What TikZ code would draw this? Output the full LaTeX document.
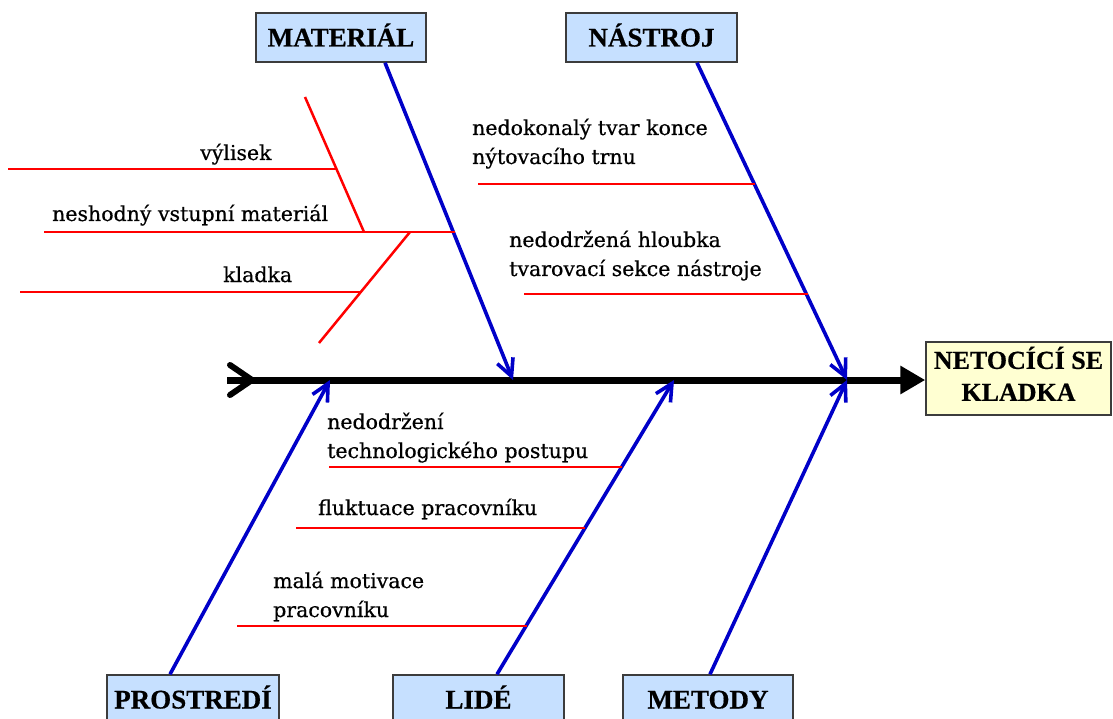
\documentclass[tikz,border=0pt]{standalone}
\usepackage{fontspec}
\setmainfont{Liberation Serif}
\newfontfamily\lblfont[FakeBold=0.6]{DejaVu Serif}
\newfontfamily\boxfont[FakeBold=0.5]{Liberation Serif Bold}
\usetikzlibrary{arrows.meta}

\definecolor{boxblue}{RGB}{198,224,255}
\definecolor{boxyellow}{RGB}{255,255,210}
\definecolor{boxline}{RGB}{60,60,60}
\definecolor{catblue}{RGB}{0,0,200}
\definecolor{causered}{RGB}{255,0,0}

\tikzset{
  catbox/.style={draw=boxline, line width=1.5pt, fill=boxblue, inner sep=0pt,
    minimum height=49pt, text height=18pt, text depth=0pt,
    font=\boxfont\fontsize{27}{32}\selectfont},
  effectbox/.style={draw=boxline, line width=1.5pt, fill=boxyellow, inner sep=0pt,
    minimum width=185pt, minimum height=73pt,
    font=\boxfont\fontsize{26}{32}\selectfont},
  bone/.style={catblue, line width=3.6pt, -{Straight Barb[length=17pt,width=17pt]}},
  cause/.style={causered, line width=2.5pt},
  spine/.style={black, line width=7pt},
  lbl/.style={inner sep=0pt, anchor=base west,
    font=\lblfont\fontsize{20.5}{29}\selectfont}
}

\newcommand{\twolines}[2]{\begin{tabular}[t]{@{}l@{}}#1\\#2\end{tabular}}

\begin{document}
\begin{tikzpicture}[x=1pt,y=-1pt]
  \useasboundingbox (0,0) rectangle (1113,719);

  % category boxes
  \node[catbox, minimum width=170pt] (mat) at (341,37.5) {MATERIÁL};
  \node[catbox, minimum width=171pt] (nas) at (651.5,37.5) {NÁSTROJ};
  \node[catbox, minimum width=172pt] (pro) at (193,699.5) {PROSTREDÍ};
  \node[catbox, minimum width=171pt] (lid) at (478.5,699.5) {LIDÉ};
  \node[catbox, minimum width=170pt] (met) at (708,699.5) {METODY};

  % effect box
  \node[effectbox] (eff) at (1018.5,378.5)
    {\raisebox{-4pt}{\begin{tabular}{@{}c@{}}NETOCÍCÍ SE\\KLADKA\end{tabular}}};

  % spine
  \coordinate (tail) at (227,380);
  \draw[spine, -{Triangle[length=25pt,width=27pt]}] (tail) -- (tail -| eff.west);
  \draw[spine, line width=6pt, line cap=round, line join=miter]
    (tail) ++(3,-15) -- ++(22,15) -- ++(-22,15);

  % points where the bones meet the spine
  \coordinate (jmat) at (513,380);
  \coordinate (jnas) at (847,380);
  \coordinate (jpro) at (330,380);
  \coordinate (jlid) at (674,380);
  \coordinate (jmet) at (847,380);

  % category bones
  \draw[bone] ([xshift=44pt]mat.south) -- (jmat);
  \draw[bone] ([xshift=45.5pt]nas.south) -- (jnas);
  \draw[bone] ([xshift=-23pt]pro.north) -- (jpro);
  \draw[bone] ([xshift=18.5pt]lid.north) -- (jlid);
  \draw[bone] ([xshift=2pt]met.north) -- (jmet);

  % MATERIAL causes
  \coordinate (m1a) at (44,232);   \coordinate (m1b) at (455,232);
  \coordinate (s1a) at (305,97);   \coordinate (s1b) at (364,232);
  \coordinate (s2a) at (410,232);  \coordinate (s2b) at (319,343);
  \coordinate (v1) at (8,169);     \coordinate (v2) at (337,169);
  \coordinate (k1) at (20,292);    \coordinate (k2) at (361,292);
  \draw[cause] (m1a) -- (m1b);
  \draw[cause] (s1a) -- (s1b);
  \draw[cause] (s2a) -- (s2b);
  \draw[cause] (v1) -- (v2);
  \draw[cause] (k1) -- (k2);
  \node[lbl] (tvyl) at (200,160) {výlisek};
  \node[lbl] (tnes) at (52,221) {neshodný vstupní materiál};
  \node[lbl] (tkla) at (223,282) {kladka};

  % NASTROJ causes
  \coordinate (n1a) at (478,184);  \coordinate (n1b) at (755,184);
  \coordinate (n2a) at (524,294);  \coordinate (n2b) at (808,294);
  \draw[cause] (n1a) -- (n1b);
  \draw[cause] (n2a) -- (n2b);
  \node[lbl] (tned) at (472,135) {\twolines{nedokonalý tvar konce}{nýtovacího trnu}};
  \node[lbl] (thlo) at (509,247) {\twolines{nedodržená hloubka}{tvarovací sekce nástroje}};

  % LIDE causes
  \coordinate (l1a) at (329,467);  \coordinate (l1b) at (622,467);
  \coordinate (l2a) at (296,528);  \coordinate (l2b) at (585,528);
  \coordinate (l3a) at (237,626);  \coordinate (l3b) at (527,626);
  \draw[cause] (l1a) -- (l1b);
  \draw[cause] (l2a) -- (l2b);
  \draw[cause] (l3a) -- (l3b);
  \node[lbl] (ttec) at (327,429) {\twolines{nedodržení}{technologického postupu}};
  \node[lbl] (tflu) at (318,515) {fluktuace pracovníku};
  \node[lbl] (tmot) at (273,588) {\twolines{malá motivace}{pracovníku}};
\end{tikzpicture}
\end{document}
